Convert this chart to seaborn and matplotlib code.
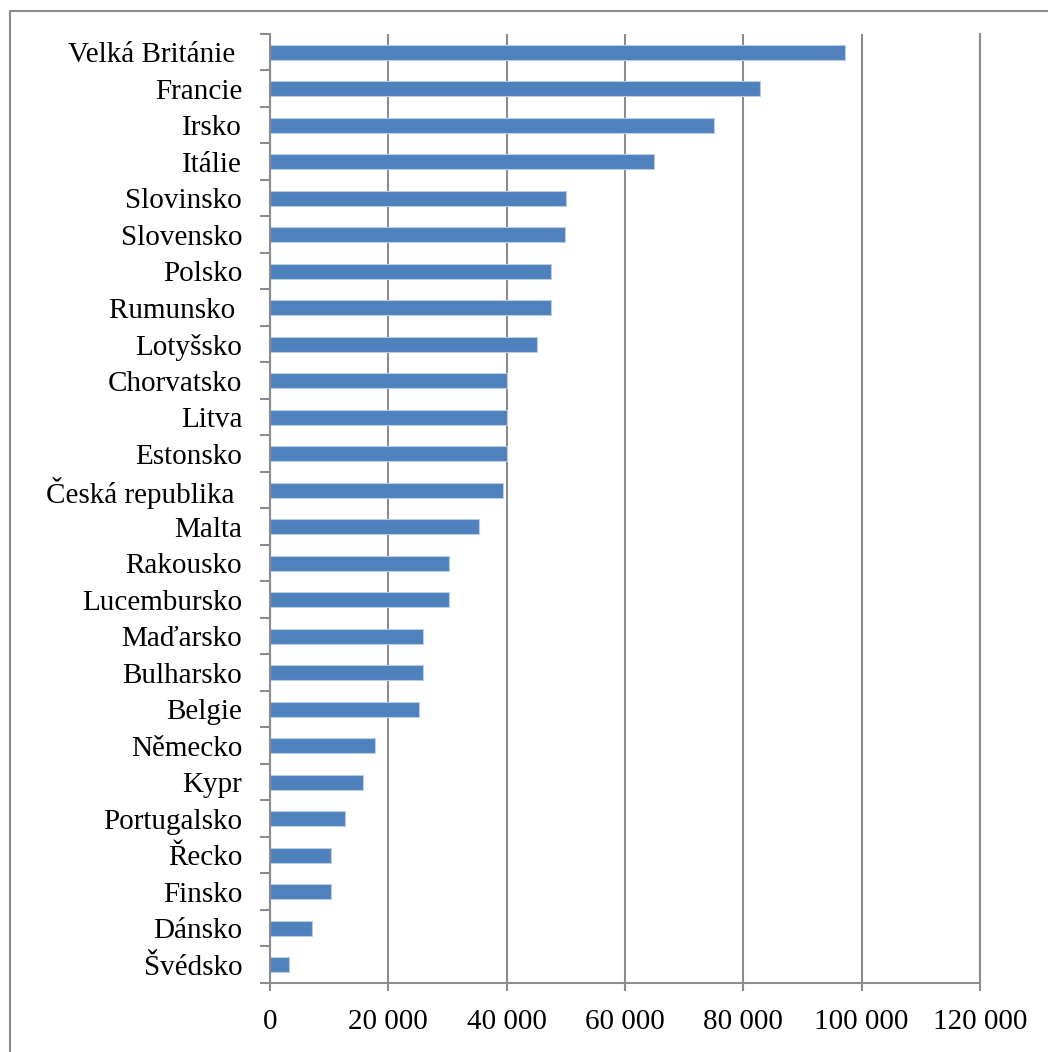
import matplotlib
matplotlib.use("Agg")
import matplotlib.pyplot as plt
import seaborn as sns
import pandas as pd
from matplotlib.ticker import FuncFormatter, FixedLocator
from matplotlib.patches import Rectangle

countries = ["Velká Británie ", "Francie", "Irsko", "Itálie", "Slovinsko", "Slovensko",
             "Polsko", "Rumunsko ", "Lotyšsko", "Chorvatsko", "Litva", "Estonsko",
             "Česká republika ", "Malta", "Rakousko", "Lucembursko", "Maďarsko",
             "Bulharsko", "Belgie", "Německo", "Kypr", "Portugalsko", "Řecko",
             "Finsko", "Dánsko", "Švédsko"]
values = [97200, 82800, 75000, 64900, 50100, 49800, 47500, 47500, 45100, 40100,
          40000, 40000, 39400, 35300, 30200, 30200, 25900, 25900, 25200, 17800,
          15700, 12700, 10300, 10300, 7100, 3200]
x_ticks = [0, 20000, 40000, 60000, 80000, 100000, 120000]

df = pd.DataFrame({"country": countries, "value": values})

sns.set_style("white")
plt.rcParams['font.family'] = ['Liberation Serif', 'DejaVu Serif']

fig = plt.figure(figsize=(10.48, 10.52), dpi=100)
ax = fig.add_axes([270/1048, 1-983/1052, (980-270)/1048, (983-34)/1052])

# figure border
fig.patches.append(Rectangle((10/1048, -0.01), 1.05, 1-11/1052+0.01, transform=fig.transFigure,
                             fill=False, edgecolor='#8c8c8c', linewidth=1.5))

sns.barplot(data=df, x="value", y="country", orient="h", color="#4F81BD",
            width=0.41, edgecolor="#b9cde5", linewidth=0.8, saturation=1, ax=ax)

ax.set_xlim(0, 120000)
ax.set_ylim(len(countries) - 0.5, -0.5)
ax.xaxis.set_major_locator(FixedLocator(x_ticks))
ax.xaxis.set_major_formatter(FuncFormatter(lambda v, p: f"{int(v):,}".replace(",", " ")))
ax.grid(axis='x', color='#8c8c8c', linewidth=1.5)
ax.set_axisbelow(True)
ax.set_xlabel("")
ax.set_ylabel("")

ax.spines["top"].set_visible(False)
for s in ["left", "bottom", "right"]:
    ax.spines[s].set_color('#8c8c8c')
    ax.spines[s].set_linewidth(1.5)

ax.tick_params(axis='x', which='major', bottom=True, length=6, width=1.5, color='#8c8c8c',
               direction='out', pad=13, labelsize=21, labelcolor='black')
ax.yaxis.set_minor_locator(FixedLocator([i - 0.5 for i in range(len(countries) + 1)]))
ax.tick_params(axis='y', which='major', left=True, length=0, pad=20, labelsize=21, labelcolor='black')
ax.tick_params(axis='y', which='minor', left=True, length=7, width=1.5, color='#8c8c8c', direction='out')

fig.savefig("out.png", dpi=100)
